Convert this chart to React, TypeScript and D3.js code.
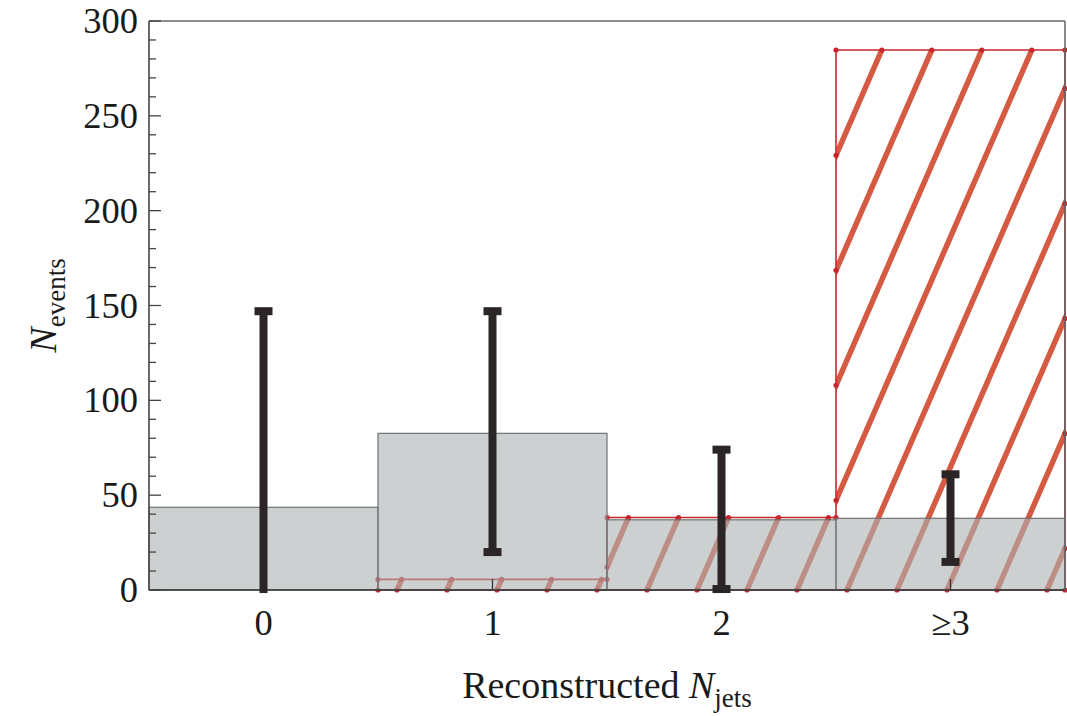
import React from "react";
import * as d3 from "d3";

// ---- data ----
const categories = ["0", "1", "2", "≥3"];
const binCenters = [0, 1, 2, 3];
const background = [43.6, 82.6, 37.0, 37.8]; // grey histogram
const signal = [0, 5.6, 38.2, 284.7]; // red hatched histogram
const errLow = [0, 20, 0.5, 14.8];
const errHigh = [147, 147, 74, 61];
const yTicksMajor = [0, 50, 100, 150, 200, 250, 300];
const yTicksMinor = d3.range(0, 301, 10);

const W = 1067;
const H = 716;
const L = 149, R = 1065, T = 21, B = 590;

export default function App() {
  const x = d3.scaleLinear().domain([-0.5, 3.5]).range([L, R]);
  const y = d3.scaleLinear().domain([0, 300]).range([B, T]);

  // red step outline polygon
  const redPts: [number, number][] = [];
  const firstIdx = signal.findIndex((v) => v > 0);
  redPts.push([x(binCenters[firstIdx] - 0.5), y(0)]);
  for (let i = firstIdx; i < signal.length; i++) {
    redPts.push([x(binCenters[i] - 0.5), y(signal[i])]);
    redPts.push([x(binCenters[i] + 0.5), y(signal[i])]);
  }
  redPts.push([x(binCenters[signal.length - 1] + 0.5), y(0)]);
  const redPath = d3.line()(redPts) + "Z";

  // hatch lines
  const slope = 2.3;
  const spacing = 50;
  const phase = 447;
  const hatchB: number[] = [];
  for (let b = phase - 50 * 10; b < R + 10; b += spacing) hatchB.push(b);
  const hatchLines = hatchB.map((b) => ({
    x1: b,
    y1: B,
    x2: b + (B - T) / slope,
    y2: T,
  }));

  // intersection dots of hatch lines with outline
  const dots: [number, number][] = [];
  redPts.forEach((p) => dots.push(p));
  for (let i = 0; i < redPts.length; i++) {
    const [ax, ay] = redPts[i];
    const [bx, by] = redPts[(i + 1) % redPts.length];
    hatchB.forEach((b) => {
      if (ay === by) {
        const xi = b + (B - ay) / slope;
        if (xi > Math.min(ax, bx) + 2 && xi < Math.max(ax, bx) - 2) dots.push([xi, ay]);
      } else if (ax === bx) {
        const yi = B - (ax - b) * slope;
        if (yi > Math.min(ay, by) + 2 && yi < Math.max(ay, by) - 2) dots.push([ax, yi]);
      }
    });
  }

  const serif = "'Liberation Serif', 'DejaVu Serif', serif";
  const barColor = "#2b2525";
  const capW = 18, capH = 8, barW = 8;

  return (
    <svg
      width={W}
      height={H}
      style={{ position: "absolute", left: 0, top: 0, background: "#fff" }}
    >
      <defs>
        <clipPath id="redClip">
          <path d={redPath} />
        </clipPath>
      </defs>

      {/* red hatched histogram */}
      <g clipPath="url(#redClip)">
        {hatchLines.map((l, i) => (
          <line key={i} x1={l.x1} y1={l.y1} x2={l.x2} y2={l.y2} stroke="#d45a42" strokeWidth={5.5} />
        ))}
      </g>
      <path d={redPath} fill="none" stroke="#c8262c" strokeWidth={1.6} />
      {dots.map((d, i) => (
        <circle key={i} cx={d[0]} cy={d[1]} r={2.6} fill="#c8262c" />
      ))}

      {/* grey histogram */}
      {background.map((v, i) => (
        <rect
          key={i}
          x={x(binCenters[i] - 0.5)}
          y={y(v)}
          width={x(binCenters[i] + 0.5) - x(binCenters[i] - 0.5)}
          height={y(0) - y(v)}
          fill="rgb(172,177,178)"
          fillOpacity={0.6}
          stroke="#6f7274"
          strokeWidth={1.2}
        />
      ))}

      {/* frame */}
      <line x1={L} x2={R} y1={T} y2={T} stroke="#666" strokeWidth={1.5} />
      <line x1={R} x2={R} y1={T} y2={B} stroke="#666" strokeWidth={1.5} />
      <line x1={L} x2={R} y1={B} y2={B} stroke="#333" strokeWidth={1.6} />
      <line x1={L} x2={L} y1={T} y2={B} stroke="#444" strokeWidth={1.6} />

      {/* y ticks */}
      {yTicksMinor.map((t) => (
        <line
          key={"m" + t}
          x1={L}
          x2={L + (t % 50 === 0 ? 12 : 7)}
          y1={y(t)}
          y2={y(t)}
          stroke="#444"
          strokeWidth={1.3}
        />
      ))}
      {yTicksMajor.map((t) => (
        <text
          key={"l" + t}
          x={L - 11}
          y={y(t) + 12}
          textAnchor="end"
          fontFamily={serif}
          fontSize={36.5}
          fill="#1a1a1a"
        >
          {t}
        </text>
      ))}

      {/* x ticks */}
      {binCenters.map((c, i) => (
        <g key={"x" + i}>
          <line x1={x(c)} x2={x(c)} y1={B} y2={B - 11} stroke="#333" strokeWidth={1.3} />
          <text
            x={x(c)}
            y={635}
            textAnchor="middle"
            fontFamily={serif}
            fontSize={36.5}
            fill="#1a1a1a"
          >
            {categories[i]}
          </text>
        </g>
      ))}

      {/* error bars */}
      {binCenters.map((c, i) => {
        const cx = x(c);
        const yTop = y(errHigh[i]);
        const yBot = y(errLow[i]);
        return (
          <g key={"e" + i} fill={barColor}>
            <rect x={cx - barW / 2} y={yTop} width={barW} height={yBot - yTop + (errLow[i] === 0 ? 3 : 0)} />
            <rect x={cx - capW / 2} y={yTop - capH / 2} width={capW} height={capH} />
            {errLow[i] > 0 && (
              <rect x={cx - capW / 2} y={yBot - capH / 2} width={capW} height={capH} />
            )}
          </g>
        );
      })}

      {/* axis labels */}
      <text
        x={(L + R) / 2}
        y={698}
        textAnchor="middle"
        fontFamily={serif}
        fontSize={38}
        fill="#1a1a1a"
      >
        Reconstructed{" "}
        <tspan fontStyle="italic">N</tspan>
        <tspan fontSize={27} dy={9}>jets</tspan>
      </text>
      <text
        transform={`translate(56, ${(T + B) / 2}) rotate(-90)`}
        textAnchor="middle"
        fontFamily={serif}
        fontSize={38}
        fill="#1a1a1a"
      >
        <tspan fontStyle="italic">N</tspan>
        <tspan fontSize={27} dy={9}>events</tspan>
      </text>
    </svg>
  );
}
